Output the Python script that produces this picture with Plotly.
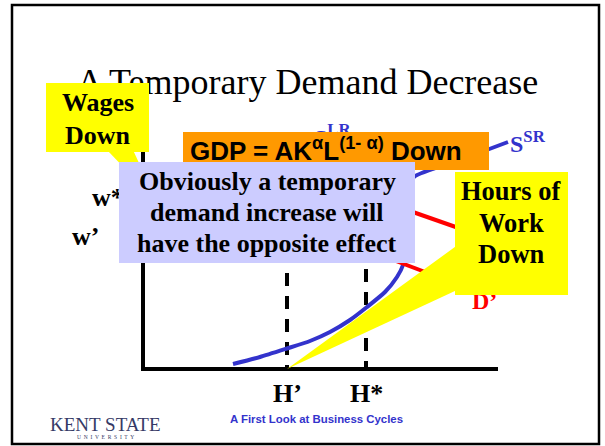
import plotly.graph_objects as go

# ---------------- data (economic units: hours on x, real wage on y) ----------------
hours_ticks = [14.4, 22.3]          # H', H*
hours_tick_labels = ["H’", "H*"]
wage_ticks = [16.95, 13.05]         # w*, w'
wage_tick_labels = ["w*", "w’"]
dash_tops = [9.6, 10.0]

ssr_hours = [9.0, 11.7, 14.4, 16.7, 18.7, 20.7, 22.4, 24.2, 25.4, 26.0, 26.3, 26.5,
             26.65, 26.8, 27.1, 31.7, 36.5]
ssr_wage = [0.5, 1.2, 2.05, 2.8, 3.7, 4.9, 6.2, 7.7, 9.2, 10.4, 12.4, 14.9,
            16.9, 18.2, 19.2, 20.9, 22.7]

d_hours = [18.7, 32.7]
d_wage = [18.6, 13.7]
dprime_hours = [23.7, 32.7]
dprime_wage = [11.4, 8.0]

axis_hours_max = 35.5
axis_wage_max = 22.9

# ---------------- layout helpers (pixel layout -> axis units) ----------------
W, H = 605, 446
ORIGIN = (143, 369)
UNIT = 10.0


def X(px):
    return (px - ORIGIN[0]) / UNIT


def Y(py):
    return (ORIGIN[1] - py) / UNIT


SERIF = "Liberation Serif, Times New Roman, serif"
SANS = "Liberation Sans, Arial, sans-serif"
BLUE = "#3333CC"
RED = "#FF0000"
YELLOW = "#FFFF00"
ORANGE = "#FF9900"
LILAC = "#CCCCFF"


def txt(x, y, text, size, color="black", family=SERIF, weight="bold",
        xanchor="center", yanchor="middle"):
    return dict(x=x, y=y, xref="x", yref="y", text=text, showarrow=False,
                font=dict(family=family, size=size, color=color, weight=weight),
                xanchor=xanchor, yanchor=yanchor, borderpad=0, borderwidth=0)


def rect(x0, y0, x1, y1, color):
    return dict(type="rect", xref="x", yref="y", x0=X(x0), y0=Y(y0), x1=X(x1), y1=Y(y1),
                fillcolor=color, line=dict(width=0), layer="above")


def label_trace(x, y, text, size, color="black", weight="bold", pos="middle right",
                family=SERIF):
    return go.Scatter(x=[x], y=[y], mode="text", text=[text], textposition=pos,
                      textfont=dict(family=family, size=size, color=color, weight=weight),
                      hoverinfo="skip", cliponaxis=False)


fig = go.Figure()

# axes of the diagram
fig.add_trace(go.Scatter(x=[0, 0, axis_hours_max], y=[axis_wage_max, 0, 0], mode="lines",
                         line=dict(color="black", width=4), hoverinfo="skip"))
# dashed verticals at H' and H*
for h, top in zip(hours_ticks, dash_tops):
    fig.add_trace(go.Scatter(x=[h, h], y=[top, 0], mode="lines",
                             line=dict(color="black", width=4, dash="13px,10px"),
                             hoverinfo="skip"))
# supply curve
fig.add_trace(go.Scatter(x=ssr_hours, y=ssr_wage, mode="lines",
                         line=dict(color=BLUE, width=4, shape="spline", smoothing=0.6),
                         hoverinfo="skip"))
# demand curves
fig.add_trace(go.Scatter(x=d_hours, y=d_wage, mode="lines",
                         line=dict(color=RED, width=4), hoverinfo="skip"))
fig.add_trace(go.Scatter(x=dprime_hours, y=dprime_wage, mode="lines",
                         line=dict(color=RED, width=4), hoverinfo="skip"))

# texts that the callout boxes partly cover (drawn beneath the boxes)
fig.add_trace(label_trace(X(307.5), Y(84.5), "A Temporary Demand Decrease", 36,
                          weight="normal", pos="middle center"))
for w, lab, left in zip(wage_ticks, wage_tick_labels, [92, 72]):
    fig.add_trace(label_trace(X(left), w, lab, 26))
fig.add_trace(label_trace(X(510), Y(146), "S<sup>SR</sup>", 24, color=BLUE))
fig.add_trace(label_trace(X(314), Y(139.5), "S<sup>LR</sup>", 24, color=BLUE))
fig.add_trace(label_trace(X(472), Y(303), "D’", 24, color=RED))

shapes = [
    # slide frame
    dict(type="rect", xref="x", yref="y", x0=X(12), y0=Y(5), x1=X(599), y1=Y(444),
         line=dict(color="black", width=2.5), fillcolor="rgba(0,0,0,0)"),
    # Wages Down callout
    dict(type="path", xref="x", yref="y",
         path=f"M {X(107)},{Y(150)} L {X(157)},{Y(202)} L {X(133)},{Y(150)} Z",
         fillcolor=YELLOW, line=dict(width=0), layer="above"),
    rect(46, 83, 149, 152, YELLOW),
    # GDP box
    rect(183, 132, 489, 170, ORANGE),
    # lilac box
    rect(119, 162, 415, 263, LILAC),
    # Hours of Work Down callout
    dict(type="path", xref="x", yref="y",
         path=f"M {X(470)},{Y(236)} L {hours_ticks[0]},{0} L {X(470)},{Y(284)} Z",
         fillcolor=YELLOW, line=dict(width=0), layer="above"),
    rect(455, 172, 568, 295, YELLOW),
]

ann = []
for h, lab in zip(hours_ticks, hours_tick_labels):
    ann.append(txt(h, Y(393), lab, 26))
ann.append(txt(X(97.5), Y(102), "Wages", 26))
ann.append(txt(X(97.5), Y(135), "Down", 26))
ann.append(txt(X(326), Y(149), "GDP = AK<sup>α</sup>L<sup>(1- α)</sup> Down", 26, family=SANS))
for yy, line in zip([181, 212, 243], ["Obviously a temporary", "demand increase will",
                                       "have the opposite effect"]):
    ann.append(txt(X(267), Y(yy), line, 26))
for yy, line in zip([191, 223, 254], ["Hours of", "Work", "Down"]):
    ann.append(txt(X(511.5), Y(yy), line, 26.5))

# footer
ann.append(txt(X(316), Y(419), "A First Look at Business Cycles", 11.4, color=BLUE, family=SANS))
ann.append(txt(X(105), Y(424), "KENT STATE", 19, color="#363a66", weight="normal"))
ann.append(txt(X(105), Y(437), "U  N  I  V  E  R  S  I  T  Y", 5.5, color="#363a66",
               weight="normal"))

fig.update_layout(
    width=W, height=H, margin=dict(l=0, r=0, t=0, b=0, pad=0),
    paper_bgcolor="white", plot_bgcolor="white", showlegend=False,
    xaxis=dict(range=[X(0), X(W)], visible=False, fixedrange=True),
    yaxis=dict(range=[Y(H), Y(0)], visible=False, fixedrange=True),
    shapes=shapes, annotations=ann,
)

fig.write_html("out.html", config={"displayModeBar": False},
               post_script="document.body.style.margin='0';document.body.style.overflow='hidden';")
